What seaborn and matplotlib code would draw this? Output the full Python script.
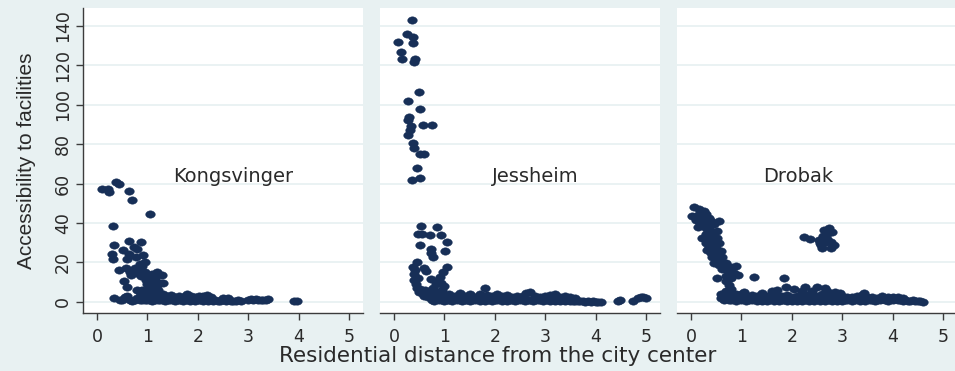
import numpy as np
import pandas as pd
import matplotlib
matplotlib.use("Agg")
import matplotlib.pyplot as plt
import seaborn as sns
from matplotlib.path import Path

# ---------------- data ----------------
cities = ["Kongsvinger", "Jessheim", "Drobak"]
x_ticks = [0, 1, 2, 3, 4, 5]
y_ticks = [0, 20, 40, 60, 80, 100, 120, 140]

kong_scatter = [(0.09,57.3),(0.24,55.5),(0.22,57.2),(0.37,60.7),(0.44,59.9),(0.64,56.0),(0.70,51.7),
    (1.06,44.6),(0.31,38.7),(0.33,29.1),(0.63,30.8),(0.87,30.4),(0.30,24.4),(0.32,22.0),(0.52,26.4),
    (0.73,27.8),(0.80,26.9),(0.63,24.2),(0.60,22.0),(0.77,22.7),(0.92,23.7),(0.44,16.2),(0.57,17.4),
    (0.72,15.9),(0.80,14.6),(0.67,13.5),(0.95,15.2),(1.02,12.5),(1.18,15.4),(1.28,13.7),(0.54,10.7),
    (0.59,7.4),(0.33,1.9),(0.85,19.0),(0.90,18.0),(0.95,20.0),(0.75,17.0),(0.85,16.0),(0.88,13.0),
    (1.10,14.0),(1.15,12.0),(0.70,14.5),(0.65,15.0),(1.00,9.0),(1.05,8.0),(1.10,7.0),(1.20,6.0),
    (1.25,9.5),(1.30,9.5),(0.90,6.0),(0.85,5.0),(0.95,4.0),(1.00,6.0),(1.15,5.0),(1.05,4.0),
    (1.20,3.5),(0.80,6.0),(1.12,10.0),(1.18,8.5),(0.98,11.0)]
kong_band = [(0.45,1.0),(0.50,0.8),(0.55,2.5),(0.60,3.0),(0.65,1.1),(0.70,0.7),(0.75,1.0),(0.80,2.0),
    (0.85,1.2),(0.90,0.8),(0.95,1.0),(1.00,1.1),(1.05,0.9),(1.10,0.7),(1.15,1.0),(1.20,0.8),(1.25,1.2),
    (1.30,0.9),(1.35,0.6),(1.40,1.0),(1.45,0.8),(1.50,0.9),(1.55,0.7),(1.60,1.1),(1.65,0.8),(1.70,0.6),
    (1.75,0.9),(1.80,1.0),(1.85,0.7),(1.90,0.8),(1.95,0.6),(2.00,1.0),(2.05,0.9),(2.10,0.7),(2.15,0.8),
    (2.20,0.6),(2.25,0.9),(2.30,0.7),(2.35,0.8),(2.40,0.5),(2.45,0.7),(2.50,0.9),(2.55,0.6),(2.60,0.8),
    (2.65,0.7),(2.70,0.5),(2.75,0.6),(2.80,0.8),(2.85,0.5),(3.00,1.2),(3.05,1.5),(3.10,1.0),(3.15,1.3),
    (3.20,0.9),(3.25,1.1),(3.30,0.8),(3.35,1.0),(3.40,1.4),(3.90,0.5),(3.97,0.6),
    (0.90,3.5),(0.98,4.5),(1.06,3.0),(1.14,5.0),(1.22,3.5),(1.30,4.0),(1.38,3.0),(1.46,3.5),(1.54,2.5),
    (1.62,3.0),(1.70,2.5),(1.78,3.8),(1.86,3.0),(1.94,2.5),(2.02,3.2),(2.10,2.8),(2.18,3.5),(2.26,2.5),
    (2.50,1.8),(2.60,2.0)]

jess_scatter = [(0.35,143.0),(0.26,136.0),(0.37,134.3),(0.07,132.0),(0.38,131.2),(0.14,126.5),
    (0.15,123.3),(0.42,123.1),(0.40,121.4),(0.50,106.2),(0.28,102.0),(0.52,97.8),(0.30,93.7),
    (0.28,92.3),(0.34,89.0),(0.58,89.6),(0.75,89.6),(0.31,87.3),(0.27,84.7),(0.37,80.5),(0.40,78.1),
    (0.51,74.9),(0.59,74.9),(0.46,68.1),(0.52,62.6),(0.36,61.7),(0.54,38.7),(0.85,38.0),(0.48,34.5),
    (0.56,34.5),(0.72,34.1),(0.93,33.8),(1.05,30.4),(0.51,28.8),(0.74,26.9),(0.73,24.7),(1.02,25.7),
    (0.77,22.8),(0.46,20.3),(0.38,17.9),(0.60,17.4),(1.05,17.9),(0.64,15.7),(0.40,14.1),(0.98,15.2),
    (0.91,12.8),(0.40,11.2),(0.74,11.5),(0.83,9.1),(0.43,9.1),(0.51,6.4),(0.93,9.5),(0.55,4.4),
    (0.45,7.0),(0.50,5.0),(0.60,3.0),(0.65,4.0),(0.70,3.0),(0.80,5.0),(0.85,4.0),(0.95,6.0),
    (1.00,8.0),(0.78,7.0),(0.62,6.0),(0.88,10.5),(0.47,12.0),(0.42,16.0),(0.57,5.5),(0.68,2.5),(0.97,3.5)]
jess_band = [(0.75,1.0),(0.80,0.6),(0.85,1.3),(0.90,0.8),(0.95,1.1),(1.00,0.5),(1.05,1.2),(1.10,0.9),
    (1.15,0.6),(1.20,1.3),(1.25,0.8),(1.30,1.0),(1.35,0.6),(1.40,1.2),(1.45,0.9),(1.50,0.5),(1.55,1.1),
    (1.60,0.8),(1.65,1.3),(1.70,0.7),(1.75,1.0),(1.80,0.6),(1.85,1.2),(1.90,0.9),(1.95,0.5),(2.00,1.1),
    (2.05,0.8),(2.10,1.3),(2.15,0.7),(2.20,1.0),(2.25,0.6),(2.30,1.2),(2.35,0.9),(2.40,0.5),(2.45,1.1),
    (2.50,0.8),(2.55,1.0),(2.60,0.6),(2.65,1.2),(2.70,0.9),(2.75,0.5),(2.80,1.1),(2.85,0.8),(2.90,1.0),
    (2.95,0.6),(3.00,1.2),(3.05,0.9),(3.10,0.5),(3.15,1.0),(3.20,0.7),(3.25,0.9),(3.30,0.5),(3.35,0.8),
    (3.40,0.6),(3.45,0.9),(3.50,0.5),(3.55,0.7),(3.60,0.4),(3.65,0.6),(3.70,0.3),(3.75,0.5),(3.80,0.2),
    (3.85,0.4),(3.90,0.1),(3.95,0.3),(4.00,0.1),(4.05,0.2),(4.10,0.1),
    (0.80,3.0),(0.90,4.0),(1.00,2.8),(1.10,4.2),(1.20,3.2),(1.30,4.5),(1.40,3.0),(1.50,3.8),(1.60,2.6),
    (1.70,4.0),(1.80,7.0),(1.85,3.5),(1.95,2.8),(2.05,3.9),(2.15,3.0),(2.25,3.6),(2.35,2.6),(2.45,3.2),
    (2.55,2.8),(2.62,4.5),(2.70,4.8),(2.80,3.2),(2.90,2.7),(3.00,3.0),(3.10,3.5),(3.20,3.8),(3.30,2.5),
    (3.40,3.0),(3.50,2.5),(3.60,2.0),
    (4.45,0.5),(4.48,0.8),(4.75,0.5),(4.85,2.0),(4.90,2.3),(4.95,2.3),(5.00,2.2)]

drob_scatter = [(0.06,47.9),(0.16,47.2),(0.26,46.2),(0.01,43.8),(0.13,44.1),(0.22,43.3),(0.09,41.6),
    (0.36,42.5),(0.56,41.1),(0.32,40.4),(0.46,39.4),(0.13,38.2),(0.29,37.4),(0.41,35.7),(0.52,36.0),
    (0.22,32.3),(0.37,32.3),(0.52,32.3),(0.29,29.8),(0.42,28.9),(0.56,29.8),(0.32,26.4),(0.46,25.5),
    (0.59,25.9),(0.42,23.0),(0.52,21.3),(0.62,23.0),(0.46,19.6),(0.69,19.6),(0.79,17.9),(0.89,18.4),
    (0.62,16.7),(0.72,16.2),(0.94,13.7),(0.51,12.3),(1.25,12.8),(0.69,10.7),(0.75,8.6),(1.85,12.3),
    (0.20,45.5),(0.30,44.5),(0.40,41.0),(0.18,40.0),(0.25,39.0),(0.35,37.0),(0.45,34.0),(0.30,34.5),
    (0.40,31.0),(0.48,30.5),(0.35,28.0),(0.50,27.5),(0.40,25.0),(0.55,24.0),(0.48,22.5),(0.60,20.5),
    (0.55,18.5),(0.65,17.5),(0.75,15.0),(0.85,14.5),(0.70,13.0),(0.80,12.0),
    (2.24,33.1),(2.37,32.0),(2.54,31.5),(2.64,36.5),(2.74,37.4),(2.71,34.9),(2.57,28.9),(2.60,27.2),
    (2.77,27.2),(2.84,28.9),(2.77,30.6),(2.67,30.6),(2.62,33.5),(2.70,32.0),(2.80,35.5),(2.55,30.0),
    (1.89,7.8),(2.04,6.6),(2.27,7.8),(2.50,7.8),(2.66,7.3),(2.96,4.4),(3.43,4.4),(0.80,6.5),(0.70,5.5),
    (1.60,5.5),(1.70,6.0),(2.20,5.5),(2.40,5.5),(2.70,5.5),(2.85,5.0),(1.40,4.5),(1.05,5.0),(0.90,4.0)]
drob_band = [(0.60,2.0),(0.65,1.0),(0.70,2.5),(0.75,1.2),(0.80,0.8),(0.85,1.5),(0.90,0.6),(0.95,1.3),
    (1.00,0.9),(1.05,1.4),(1.10,0.5),(1.15,1.1),(1.20,0.8),(1.25,1.3),(1.30,0.4),(1.35,1.0),(1.40,0.7),
    (1.45,1.2),(1.50,0.5),(1.55,0.9),(1.60,1.3),(1.65,0.6),(1.70,1.0),(1.75,0.4),(1.80,1.2),(1.85,0.8),
    (1.90,0.5),(1.95,1.1),(2.00,0.7),(2.05,1.3),(2.10,0.4),(2.15,1.0),(2.20,0.6),(2.25,1.2),(2.30,0.8),
    (2.35,0.5),(2.40,1.1),(2.45,0.7),(2.50,1.3),(2.55,0.4),(2.60,1.0),(2.65,0.6),(2.70,1.2),(2.75,0.8),
    (2.80,0.5),(2.85,1.1),(2.90,0.7),(2.95,1.0),(3.00,0.5),(3.05,1.2),(3.10,0.8),(3.15,1.4),(3.20,0.6),
    (3.25,1.0),(3.30,1.5),(3.35,0.7),(3.40,1.1),(3.45,0.6),(3.50,1.3),(3.55,0.8),(3.60,1.0),(3.65,0.5),
    (3.70,1.2),(3.75,0.8),(3.80,1.5),(3.85,1.0),(3.90,0.6),(3.95,1.3),(4.00,0.9),(4.05,1.4),(4.10,0.8),
    (4.15,1.2),(4.20,0.6),(4.25,1.0),(4.30,0.7),(4.35,0.5),(4.40,0.9),(4.45,0.4),(4.50,0.6),(4.55,0.3),
    (4.60,0.2),
    (0.60,4.0),(0.70,5.0),(0.80,3.5),(0.90,2.8),(1.00,3.8),(1.10,2.6),(1.20,3.4),(1.30,2.8),(1.40,2.5),
    (1.50,3.2),(1.60,2.6),(1.70,3.5),(1.80,2.8),(1.90,3.6),(2.00,2.6),(2.10,3.2),(2.20,2.8),(2.30,3.5),
    (2.40,2.6),(2.50,3.0),(2.60,3.8),(2.70,2.8),(2.80,3.3),(2.90,2.5),(3.00,3.0),(3.10,2.6),(3.20,2.5),
    (3.30,2.8),(3.40,3.5),(3.50,2.4),(3.60,2.6),(3.70,2.2),(3.80,2.8),(3.90,2.6),(4.00,2.4),(4.10,2.5),
    (4.20,2.0)]

label_pos = {"Kongsvinger": (2.7, 63.4), "Jessheim": (2.8, 63.4), "Drobak": (2.12, 63.4)}

frames = []
for city, pts in [("Kongsvinger", kong_scatter + kong_band),
                  ("Jessheim", jess_scatter + jess_band),
                  ("Drobak", drob_scatter + drob_band)]:
    d = pd.DataFrame(pts, columns=["distance", "access"])
    d["city"] = city
    frames.append(d)
df = pd.concat(frames, ignore_index=True)

# ---------------- styling ----------------
sns.set_theme(style="white")
plt.rcParams["font.family"] = ["DejaVu Sans"]

BG = "#E8F1F2"
DOT = "#172F57"
AX = "#3c3c3c"
TXT = "#2a2a2a"

t = np.linspace(0, 2 * np.pi, 41)
ellipse = Path(np.column_stack([1.3 * np.cos(t), np.sin(t)]), closed=True)

W, H = 955, 371
fig = plt.figure(figsize=(W / 100, H / 100), dpi=100, facecolor=BG)

lefts = [83, 380, 677]
pw = 280
bottom_px, top_px = 313, 8

for i, city in enumerate(cities):
    ax = fig.add_axes([lefts[i] / W, (H - bottom_px) / H, pw / W, (bottom_px - top_px) / H])
    ax.set_facecolor("white")
    sub = df[df["city"] == city]
    sns.scatterplot(data=sub, x="distance", y="access", ax=ax, marker=ellipse, s=48,
                    color=DOT, edgecolor=DOT, linewidth=0.3, legend=False, zorder=3)
    ax.set_xlim(-0.28, 5.28)
    ax.set_ylim(-5.6, 149)
    ax.set_xticks(x_ticks)
    ax.set_yticks(y_ticks)
    ax.yaxis.grid(True, color=BG, linewidth=1.3)
    ax.xaxis.grid(False)
    ax.set_axisbelow(True)
    ax.set_xlabel("")
    ax.set_ylabel("")
    for s in ["top", "right"]:
        ax.spines[s].set_visible(False)
    ax.spines["bottom"].set_color(AX)
    ax.spines["bottom"].set_linewidth(1.0)
    ax.tick_params(axis="x", direction="out", length=5, width=1, color=AX,
                   labelsize=12.5, labelcolor=TXT, pad=6, bottom=True)
    if i == 0:
        ax.spines["left"].set_color(AX)
        ax.spines["left"].set_linewidth(1.0)
        ax.tick_params(axis="y", direction="out", length=5, width=1, color=AX,
                       labelsize=12.5, labelcolor=TXT, pad=3, left=True)
        for lab in ax.get_yticklabels():
            lab.set_rotation(90)
            lab.set_va("center")
    else:
        ax.spines["left"].set_visible(False)
        ax.tick_params(axis="y", left=False, labelleft=False)
    lx, ly = label_pos[city]
    ax.text(lx, ly, city, ha="center", va="center", fontsize=14, color=TXT, zorder=4)

fig.text(27 / W, (H - 161) / H, "Accessibility to facilities", rotation=90,
         ha="center", va="center", fontsize=15, color=TXT, family="Liberation Sans")
fig.text(498 / W, (H - 356) / H, "Residential distance from the city center",
         ha="center", va="center", fontsize=15.5, color=TXT)

fig.savefig("out.png", dpi=100, facecolor=BG)
